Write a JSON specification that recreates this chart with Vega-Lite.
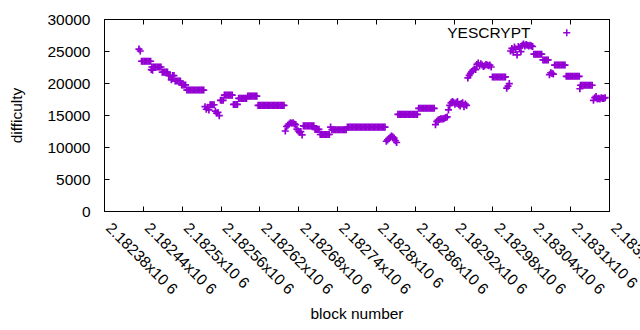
{
  "$schema": "https://vega.github.io/schema/vega-lite/v6.json",
  "width": 505,
  "height": 192,
  "autosize": "none",
  "padding": {"left": 104, "top": 19, "right": 31, "bottom": 119},
  "background": "white",
  "data": {"values": [
    {"block":2182434,"difficulty":25300},{"block":2182436,"difficulty":25000},
    {"block":2182438,"difficulty":23400},{"block":2182440,"difficulty":23400},{"block":2182442,"difficulty":23400},{"block":2182444,"difficulty":23400},{"block":2182446,"difficulty":23400},{"block":2182448,"difficulty":23400},{"block":2182450,"difficulty":23400},{"block":2182452,"difficulty":23400},
    {"block":2182453,"difficulty":22100},{"block":2182454,"difficulty":22500},{"block":2182455,"difficulty":22000},{"block":2182456,"difficulty":22500},{"block":2182458,"difficulty":22500},{"block":2182460,"difficulty":22500},{"block":2182462,"difficulty":22500},{"block":2182464,"difficulty":22500},{"block":2182466,"difficulty":22500},{"block":2182468,"difficulty":22500},
    {"block":2182470,"difficulty":21700},{"block":2182472,"difficulty":21700},{"block":2182474,"difficulty":21700},{"block":2182476,"difficulty":21700},{"block":2182478,"difficulty":21700},
    {"block":2182480,"difficulty":21150},{"block":2182482,"difficulty":21150},{"block":2182484,"difficulty":20500},{"block":2182486,"difficulty":21150},{"block":2182488,"difficulty":21150},
    {"block":2182490,"difficulty":20300},{"block":2182492,"difficulty":20300},{"block":2182494,"difficulty":20300},{"block":2182496,"difficulty":20300},{"block":2182498,"difficulty":20300},
    {"block":2182500,"difficulty":19700},{"block":2182502,"difficulty":19700},{"block":2182504,"difficulty":19700},{"block":2182506,"difficulty":19700},
    {"block":2182508,"difficulty":18900},{"block":2182510,"difficulty":18900},{"block":2182512,"difficulty":18900},{"block":2182514,"difficulty":18900},{"block":2182516,"difficulty":18900},{"block":2182518,"difficulty":18900},{"block":2182520,"difficulty":18900},{"block":2182522,"difficulty":18900},{"block":2182524,"difficulty":18900},{"block":2182526,"difficulty":18900},{"block":2182528,"difficulty":18900},{"block":2182530,"difficulty":18900},{"block":2182532,"difficulty":18900},{"block":2182534,"difficulty":18900},
    {"block":2182536,"difficulty":16300},{"block":2182538,"difficulty":15900},{"block":2182540,"difficulty":16200},{"block":2182542,"difficulty":15800},
    {"block":2182544,"difficulty":16600},{"block":2182546,"difficulty":16600},{"block":2182548,"difficulty":16600},{"block":2182550,"difficulty":16600},
    {"block":2182552,"difficulty":15600},{"block":2182554,"difficulty":15300},{"block":2182556,"difficulty":15400},{"block":2182558,"difficulty":14900},
    {"block":2182560,"difficulty":17300},{"block":2182562,"difficulty":17300},{"block":2182564,"difficulty":17300},
    {"block":2182566,"difficulty":18100},{"block":2182568,"difficulty":18100},{"block":2182570,"difficulty":18100},{"block":2182572,"difficulty":18100},{"block":2182574,"difficulty":18100},{"block":2182576,"difficulty":18100},{"block":2182578,"difficulty":18100},
    {"block":2182580,"difficulty":16650},{"block":2182582,"difficulty":16650},{"block":2182584,"difficulty":16650},{"block":2182586,"difficulty":16650},
    {"block":2182588,"difficulty":17600},{"block":2182590,"difficulty":17600},{"block":2182592,"difficulty":17600},{"block":2182594,"difficulty":17600},{"block":2182596,"difficulty":17600},{"block":2182598,"difficulty":17600},{"block":2182600,"difficulty":17600},
    {"block":2182602,"difficulty":17950},{"block":2182604,"difficulty":17950},{"block":2182606,"difficulty":17950},{"block":2182608,"difficulty":17950},{"block":2182610,"difficulty":17950},{"block":2182612,"difficulty":17950},{"block":2182614,"difficulty":17950},{"block":2182616,"difficulty":17950},
    {"block":2182618,"difficulty":16500},{"block":2182620,"difficulty":16500},{"block":2182622,"difficulty":16500},{"block":2182624,"difficulty":16500},{"block":2182626,"difficulty":16500},{"block":2182628,"difficulty":16500},{"block":2182630,"difficulty":16500},{"block":2182632,"difficulty":16500},{"block":2182634,"difficulty":16500},{"block":2182636,"difficulty":16500},{"block":2182638,"difficulty":16500},{"block":2182640,"difficulty":16500},{"block":2182642,"difficulty":16500},{"block":2182644,"difficulty":16500},{"block":2182646,"difficulty":16500},{"block":2182648,"difficulty":16500},{"block":2182650,"difficulty":16500},{"block":2182652,"difficulty":16500},{"block":2182654,"difficulty":16500},{"block":2182656,"difficulty":16500},{"block":2182658,"difficulty":16500},
    {"block":2182660,"difficulty":12500},{"block":2182662,"difficulty":13200},{"block":2182664,"difficulty":13400},{"block":2182666,"difficulty":13600},{"block":2182668,"difficulty":13800},{"block":2182670,"difficulty":13700},{"block":2182672,"difficulty":13800},{"block":2182674,"difficulty":13600},{"block":2182676,"difficulty":13500},
    {"block":2182678,"difficulty":12800},{"block":2182680,"difficulty":12500},{"block":2182682,"difficulty":12300},{"block":2182684,"difficulty":12400},{"block":2182686,"difficulty":11900},
    {"block":2182688,"difficulty":13300},{"block":2182690,"difficulty":13300},{"block":2182692,"difficulty":13300},{"block":2182694,"difficulty":13300},{"block":2182696,"difficulty":13300},{"block":2182698,"difficulty":13300},{"block":2182700,"difficulty":13300},{"block":2182702,"difficulty":13300},{"block":2182704,"difficulty":13300},
    {"block":2182706,"difficulty":12750},{"block":2182708,"difficulty":12750},{"block":2182710,"difficulty":12750},{"block":2182712,"difficulty":12750},
    {"block":2182714,"difficulty":11950},{"block":2182716,"difficulty":11950},{"block":2182718,"difficulty":11950},{"block":2182720,"difficulty":11950},{"block":2182722,"difficulty":11950},{"block":2182724,"difficulty":11950},{"block":2182726,"difficulty":11950},{"block":2182728,"difficulty":11950},
    {"block":2182730,"difficulty":13100},{"block":2182732,"difficulty":12700},{"block":2182734,"difficulty":12700},{"block":2182736,"difficulty":12700},{"block":2182738,"difficulty":12700},{"block":2182740,"difficulty":12700},{"block":2182742,"difficulty":12700},{"block":2182744,"difficulty":12700},{"block":2182746,"difficulty":12700},{"block":2182748,"difficulty":12700},{"block":2182750,"difficulty":12700},{"block":2182752,"difficulty":12700},{"block":2182754,"difficulty":12700},
    {"block":2182756,"difficulty":13100},{"block":2182758,"difficulty":13100},{"block":2182760,"difficulty":13100},{"block":2182762,"difficulty":13100},{"block":2182764,"difficulty":13100},{"block":2182766,"difficulty":13100},{"block":2182768,"difficulty":13100},{"block":2182770,"difficulty":13100},{"block":2182772,"difficulty":13100},{"block":2182774,"difficulty":13100},{"block":2182776,"difficulty":13100},{"block":2182778,"difficulty":13100},{"block":2182780,"difficulty":13100},{"block":2182782,"difficulty":13100},{"block":2182784,"difficulty":13100},{"block":2182786,"difficulty":13100},{"block":2182788,"difficulty":13100},{"block":2182790,"difficulty":13100},{"block":2182792,"difficulty":13100},{"block":2182794,"difficulty":13100},{"block":2182796,"difficulty":13100},{"block":2182798,"difficulty":13100},{"block":2182800,"difficulty":13100},{"block":2182802,"difficulty":13100},{"block":2182804,"difficulty":13100},{"block":2182806,"difficulty":13100},{"block":2182808,"difficulty":13100},{"block":2182810,"difficulty":13100},{"block":2182812,"difficulty":13100},{"block":2182814,"difficulty":13100},
    {"block":2182816,"difficulty":10900},{"block":2182818,"difficulty":11100},{"block":2182820,"difficulty":11300},{"block":2182822,"difficulty":11500},{"block":2182824,"difficulty":11700},{"block":2182826,"difficulty":11600},{"block":2182828,"difficulty":11400},{"block":2182830,"difficulty":11000},{"block":2182832,"difficulty":10700},
    {"block":2182834,"difficulty":15100},{"block":2182836,"difficulty":15100},{"block":2182838,"difficulty":15100},{"block":2182840,"difficulty":15100},{"block":2182842,"difficulty":15100},{"block":2182844,"difficulty":15100},{"block":2182846,"difficulty":15100},{"block":2182848,"difficulty":15100},{"block":2182850,"difficulty":15100},{"block":2182852,"difficulty":15100},{"block":2182854,"difficulty":15100},{"block":2182856,"difficulty":15100},{"block":2182858,"difficulty":15100},{"block":2182860,"difficulty":15100},{"block":2182862,"difficulty":15100},{"block":2182864,"difficulty":15100},
    {"block":2182866,"difficulty":16050},{"block":2182868,"difficulty":16050},{"block":2182870,"difficulty":16050},{"block":2182872,"difficulty":16050},{"block":2182874,"difficulty":16050},{"block":2182876,"difficulty":16050},{"block":2182878,"difficulty":16050},{"block":2182880,"difficulty":16050},{"block":2182882,"difficulty":16050},{"block":2182884,"difficulty":16050},{"block":2182886,"difficulty":16050},{"block":2182888,"difficulty":16050},{"block":2182890,"difficulty":16050},
    {"block":2182892,"difficulty":13500},{"block":2182894,"difficulty":14000},{"block":2182896,"difficulty":14200},{"block":2182898,"difficulty":14300},{"block":2182900,"difficulty":14400},{"block":2182902,"difficulty":14400},{"block":2182904,"difficulty":14400},{"block":2182906,"difficulty":14500},{"block":2182908,"difficulty":14600},{"block":2182910,"difficulty":14700},
    {"block":2182912,"difficulty":15800},{"block":2182914,"difficulty":16500},{"block":2182916,"difficulty":16900},{"block":2182918,"difficulty":17100},{"block":2182920,"difficulty":17000},{"block":2182922,"difficulty":16700},{"block":2182924,"difficulty":16900},{"block":2182926,"difficulty":17100},{"block":2182928,"difficulty":16600},{"block":2182930,"difficulty":16400},{"block":2182932,"difficulty":16800},{"block":2182934,"difficulty":16900},{"block":2182936,"difficulty":16300},{"block":2182938,"difficulty":16700},{"block":2182940,"difficulty":16500},
    {"block":2182942,"difficulty":20800},{"block":2182944,"difficulty":21200},{"block":2182946,"difficulty":21500},
    {"block":2182948,"difficulty":21800},{"block":2182950,"difficulty":22000},{"block":2182952,"difficulty":22200},{"block":2182954,"difficulty":22100},
    {"block":2182956,"difficulty":22900},{"block":2182958,"difficulty":23100},{"block":2182960,"difficulty":22700},{"block":2182962,"difficulty":23000},{"block":2182964,"difficulty":22800},{"block":2182966,"difficulty":22600},{"block":2182968,"difficulty":22700},{"block":2182970,"difficulty":22900},{"block":2182972,"difficulty":22800},{"block":2182974,"difficulty":22700},{"block":2182976,"difficulty":22800},{"block":2182978,"difficulty":22500},
    {"block":2182980,"difficulty":20950},{"block":2182982,"difficulty":20950},{"block":2182984,"difficulty":20950},{"block":2182986,"difficulty":20950},{"block":2182988,"difficulty":20950},{"block":2182990,"difficulty":20950},{"block":2182992,"difficulty":20950},{"block":2182994,"difficulty":20950},{"block":2182996,"difficulty":20950},{"block":2182998,"difficulty":20950},{"block":2183000,"difficulty":20950},
    {"block":2183002,"difficulty":19200},{"block":2183004,"difficulty":19500},{"block":2183006,"difficulty":19900},
    {"block":2183008,"difficulty":25000},{"block":2183010,"difficulty":25400},{"block":2183012,"difficulty":24800},{"block":2183014,"difficulty":25600},{"block":2183016,"difficulty":25300},{"block":2183018,"difficulty":24400},{"block":2183020,"difficulty":25700},{"block":2183022,"difficulty":25500},{"block":2183024,"difficulty":24900},{"block":2183026,"difficulty":25900},{"block":2183028,"difficulty":26100},{"block":2183030,"difficulty":25800},{"block":2183032,"difficulty":26000},{"block":2183034,"difficulty":25900},{"block":2183036,"difficulty":25800},{"block":2183038,"difficulty":25900},{"block":2183040,"difficulty":25800},{"block":2183042,"difficulty":25700},
    {"block":2183044,"difficulty":24500},{"block":2183046,"difficulty":24500},{"block":2183048,"difficulty":24500},{"block":2183050,"difficulty":24500},{"block":2183052,"difficulty":24500},{"block":2183054,"difficulty":24500},{"block":2183056,"difficulty":24500},
    {"block":2183058,"difficulty":23600},{"block":2183060,"difficulty":23600},{"block":2183062,"difficulty":23600},{"block":2183064,"difficulty":23600},{"block":2183066,"difficulty":23600},
    {"block":2183068,"difficulty":21300},{"block":2183070,"difficulty":21600},{"block":2183072,"difficulty":21500},{"block":2183074,"difficulty":21400},
    {"block":2183076,"difficulty":22800},{"block":2183078,"difficulty":22800},{"block":2183080,"difficulty":22800},{"block":2183082,"difficulty":22800},{"block":2183084,"difficulty":22800},{"block":2183086,"difficulty":22800},{"block":2183088,"difficulty":22800},{"block":2183090,"difficulty":22800},{"block":2183092,"difficulty":22800},
    {"block":2183094,"difficulty":21050},{"block":2183096,"difficulty":21050},{"block":2183098,"difficulty":21050},{"block":2183100,"difficulty":21050},{"block":2183102,"difficulty":21050},{"block":2183104,"difficulty":21050},{"block":2183106,"difficulty":21050},{"block":2183108,"difficulty":21050},{"block":2183110,"difficulty":21050},{"block":2183112,"difficulty":21050},{"block":2183114,"difficulty":21050},
    {"block":2183115,"difficulty":19100},{"block":2183116,"difficulty":19650},{"block":2183118,"difficulty":19650},{"block":2183120,"difficulty":19650},{"block":2183122,"difficulty":19650},{"block":2183124,"difficulty":19650},{"block":2183126,"difficulty":19650},{"block":2183128,"difficulty":19650},{"block":2183130,"difficulty":19650},{"block":2183132,"difficulty":19650},{"block":2183134,"difficulty":19650},
    {"block":2183136,"difficulty":17300},{"block":2183138,"difficulty":17700},{"block":2183140,"difficulty":17900},{"block":2183142,"difficulty":17500},{"block":2183144,"difficulty":17600},{"block":2183146,"difficulty":17500},{"block":2183148,"difficulty":17700},{"block":2183150,"difficulty":17600},{"block":2183152,"difficulty":17600},{"block":2183154,"difficulty":17700}
  ]},
  "layer": [
    {
      "mark": {"type": "point", "shape": "M-1,0L1,0M0,-1L0,1", "size": 50, "filled": false, "strokeWidth": 1.7, "opacity": 1},
      "encoding": {
        "x": {"field": "block", "type": "quantitative",
              "scale": {"domain": [2182380, 2183160], "nice": false, "zero": false},
              "axis": {"orient": "bottom", "title": "block number",
                       "values": [2182380, 2182440, 2182500, 2182560, 2182620, 2182680, 2182740, 2182800, 2182860, 2182920, 2182980, 2183040, 2183100, 2183160],
                       "labelExpr": "format(datum.value / 1000000, '.6~g') + 'x10 6'",
                       "labelAngle": 45, "labelAlign": "left", "labelBaseline": "middle", "labelPadding": 19, "labelOffset": 4,
                       "labelOverlap": false, "labelFlush": false, "labelBound": false,
                       "titleY": 107, "titleBaseline": "alphabetic"}},
        "y": {"field": "difficulty", "type": "quantitative",
              "scale": {"domain": [0, 30000], "nice": false},
              "axis": {"orient": "left", "title": "difficulty",
                       "values": [0, 5000, 10000, 15000, 20000, 25000, 30000],
                       "format": "d", "labelPadding": 19,
                       "titleX": -83, "titleY": 96, "titleAngle": -90, "titleAlign": "center", "titleBaseline": "alphabetic"}},
        "color": {"datum": "YESCRYPT", "type": "nominal",
                  "scale": {"range": ["#9400d3"]},
                  "legend": {"orient": "none", "legendX": 455, "legendY": 6, "title": null,
                             "labelAlign": "right", "labelOffset": -44, "labelBaseline": "middle",
                             "symbolType": "M-1,0L1,0M0,-1L0,1", "symbolSize": 50, "symbolStrokeWidth": 1.5,
                             "symbolFillColor": "transparent", "symbolStrokeColor": "#9400d3",
                             "labelFontSize": 15.5, "labelFont": "Liberation Sans", "labelColor": "#000", "padding": 0}}
      }
    },
    {
      "mark": {"type": "point", "opacity": 0},
      "encoding": {
        "x": {"field": "block", "type": "quantitative",
              "axis": {"orient": "top", "title": null, "labels": false,
                       "values": [2182380, 2182440, 2182500, 2182560, 2182620, 2182680, 2182740, 2182800, 2182860, 2182920, 2182980, 2183040, 2183100, 2183160]}},
        "y": {"field": "difficulty", "type": "quantitative",
              "axis": {"orient": "right", "title": null, "labels": false,
                       "values": [0, 5000, 10000, 15000, 20000, 25000, 30000]}}
      }
    }
  ],
  "resolve": {"axis": {"x": "independent", "y": "independent"}},
  "config": {
    "font": "Liberation Sans",
    "view": {"stroke": "#000", "strokeWidth": 1},
    "axis": {"grid": false, "domainColor": "#000", "tickColor": "#000", "labelColor": "#000", "titleColor": "#000",
             "labelFontSize": 15.5, "titleFontSize": 15.5, "titleFontWeight": "normal", "tickSize": -5,
             "labelFont": "Liberation Sans", "titleFont": "Liberation Sans", "domainWidth": 1, "tickWidth": 1}
  }
}
